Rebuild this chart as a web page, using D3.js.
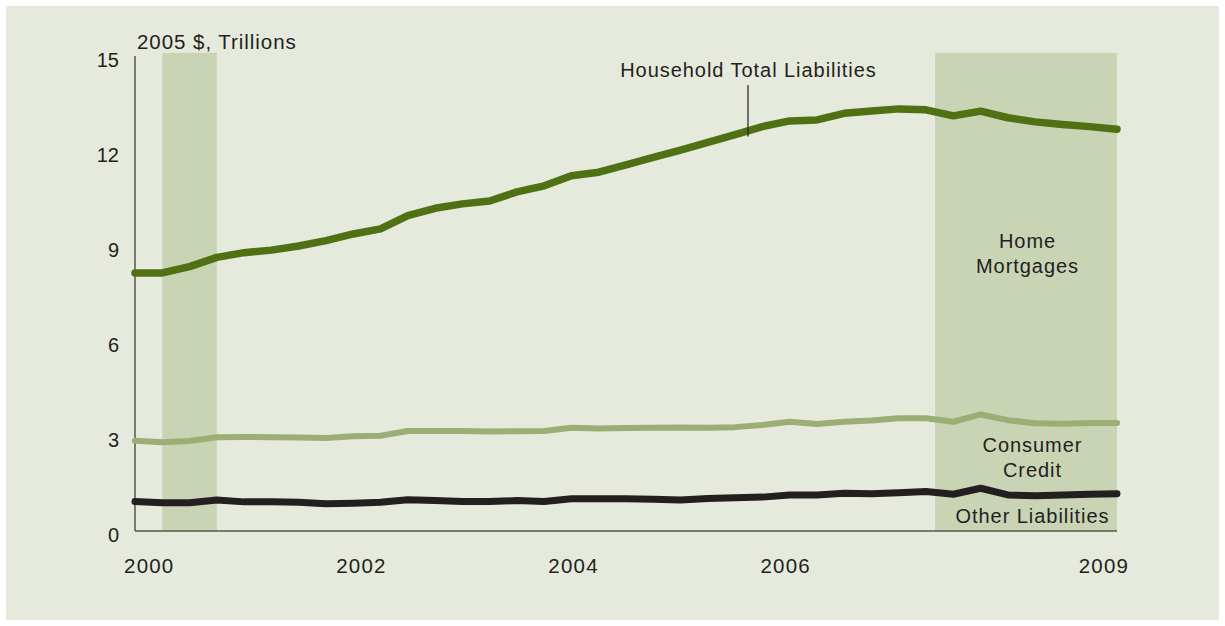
<!DOCTYPE html>
<html>
<head>
<meta charset="utf-8">
<script src="https://cdn.jsdelivr.net/npm/d3@7"></script>
<style>
  html, body { margin: 0; padding: 0; background: #ffffff; }
  svg { display: block; font-family: "Liberation Sans", Arial, sans-serif; }
</style>
</head>
<body>
<svg id="chart" width="1225" height="626"></svg>
<script>
// Quarterly observations 2000Q1 .. 2009Q1 (index 0..36), 2005 $ trillions
const quarters = d3.range(37);
const totalLiabilities = [8.15, 8.15, 8.35, 8.64, 8.79, 8.87, 9.0, 9.17, 9.38, 9.54, 9.96, 10.19, 10.33,
  10.42, 10.71, 10.9, 11.22, 11.33, 11.56, 11.8, 12.03, 12.27, 12.52, 12.77, 12.95,
  12.98, 13.19, 13.26, 13.33, 13.3, 13.11, 13.26, 13.05, 12.92, 12.84, 12.77, 12.69];
const consumerCredit = [2.85, 2.8, 2.84, 2.96, 2.97, 2.96, 2.95, 2.94, 2.99, 3.01, 3.16, 3.16, 3.16,
  3.14, 3.15, 3.16, 3.26, 3.24, 3.25, 3.26, 3.27, 3.26, 3.28, 3.35, 3.45,
  3.38, 3.45, 3.49, 3.56, 3.56, 3.45, 3.68, 3.5, 3.4, 3.39, 3.41, 3.41];
const otherLiabilities = [0.93, 0.89, 0.89, 0.98, 0.92, 0.92, 0.91, 0.86, 0.88, 0.91, 0.99, 0.96, 0.93,
  0.93, 0.96, 0.93, 1.02, 1.02, 1.02, 1.0, 0.98, 1.03, 1.05, 1.07, 1.14,
  1.14, 1.19, 1.18, 1.21, 1.25, 1.16, 1.35, 1.14, 1.11, 1.14, 1.16, 1.18];
// recession shading in quarter-index units
const recessions = [[1, 3], [29.33, 36]];
const yTicks = [0, 3, 6, 9, 12, 15];
const xTickYears = [2000, 2002, 2004, 2006, 2009];
const yAxisTitle = "2005 $, Trillions";

const svg = d3.select("#chart");
const W = 1225, H = 626;

svg.append("rect").attr("x", 6).attr("y", 6).attr("width", W - 12).attr("height", H - 12)
  .attr("fill", "#e6eadc");

const x = d3.scaleLinear().domain([0, 36]).range([135, 1117]);
const y = d3.scaleLinear().domain([0, 15]).range([531, 56]);
const labelX = d3.scaleLinear().domain([2000, 2009]).range([x(0.5), x(35.5)]);

// recession shading
svg.append("g").selectAll("rect").data(recessions).join("rect")
  .attr("x", d => x(d[0])).attr("width", d => x(d[1]) - x(d[0]))
  .attr("y", y(15.1)).attr("height", y(0) - y(15.1))
  .attr("fill", "#c9d4b5");

// axes lines
svg.append("line").attr("x1", x(0)).attr("x2", x(0)).attr("y1", y(15)).attr("y2", y(0))
  .attr("stroke", "#55574e").attr("stroke-width", 1.5);
svg.append("line").attr("x1", x(0)).attr("x2", x(36)).attr("y1", y(0)).attr("y2", y(0))
  .attr("stroke", "#55574e").attr("stroke-width", 1.5);

const textColor = "#231f20";
// y tick labels
svg.append("g").selectAll("text").data(yTicks).join("text")
  .attr("x", 119).attr("y", d => y(d) + 11)
  .attr("text-anchor", "end").attr("font-size", 20).attr("fill", textColor)
  .text(d => d);

// x tick labels
svg.append("g").selectAll("text").data(xTickYears).join("text")
  .attr("x", d => labelX(d) + 0.6).attr("y", 573)
  .attr("text-anchor", "middle").attr("font-size", 20.5).attr("fill", textColor)
  .attr("letter-spacing", 1.2)
  .text(d => d);

svg.append("text").attr("x", 137).attr("y", 49).attr("font-size", 20.5)
  .attr("fill", textColor).attr("letter-spacing", 0.95).text(yAxisTitle);

// lines
const series = [
  { values: otherLiabilities, color: "#231f20", width: 7 },
  { values: consumerCredit, color: "#9aae76", width: 6 },
  { values: totalLiabilities, color: "#4f7113", width: 7.5 }
];
const line = d3.line().x((d, i) => x(quarters[i])).y(d => y(d));
svg.append("g").selectAll("path").data(series).join("path")
  .attr("d", d => line(d.values))
  .attr("fill", "none").attr("stroke", d => d.color).attr("stroke-width", d => d.width)
  .attr("stroke-linecap", "round").attr("stroke-linejoin", "round");

// annotations
const ann = svg.append("g").attr("fill", textColor).attr("font-size", 20)
  .attr("letter-spacing", 0.95).attr("text-anchor", "middle");
ann.append("text").attr("x", 748.5).attr("y", 77).text("Household Total Liabilities");
svg.append("line").attr("x1", 748).attr("x2", 748).attr("y1", 85).attr("y2", y(totalLiabilities[22]) + 2)
  .attr("stroke", textColor).attr("stroke-width", 1.2);
ann.append("text").attr("x", 1027.5).attr("y", 248).text("Home");
ann.append("text").attr("x", 1027.5).attr("y", 273).text("Mortgages");
ann.append("text").attr("x", 1032.5).attr("y", 452).text("Consumer");
ann.append("text").attr("x", 1032.5).attr("y", 477).text("Credit");
ann.append("text").attr("x", 1032.5).attr("y", 523).text("Other Liabilities");
</script>
</body>
</html>
